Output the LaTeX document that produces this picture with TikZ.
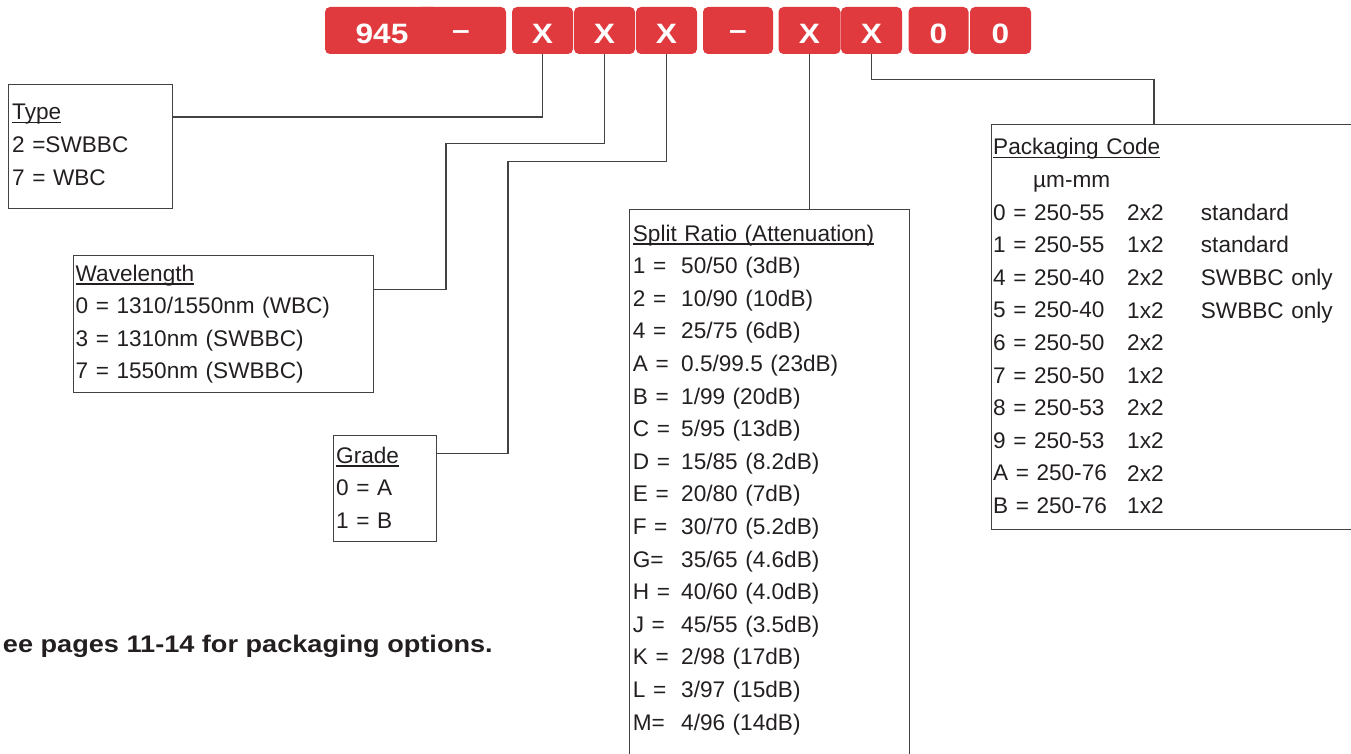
\documentclass[tikz,border=0pt]{standalone}
\usepackage{fontspec}
\setmainfont{Liberation Sans}
\newfontfamily\widebold[FakeStretch=1.13]{Liberation Sans}
\definecolor{codered}{RGB}{224,58,63}
\definecolor{ink}{RGB}{35,31,32}
\newcommand{\hdr}[1]{\leavevmode\setbox0\hbox{#1}\rlap{\rule[-3.5pt]{\wd0}{1.1pt}}\box0}

\begin{document}
\begin{tikzpicture}[x=1pt, y=-1pt,
  code/.style={rectangle, rounded corners=5pt, fill=codered, text=white, minimum height=47, inner sep=0, text height=26pt, text depth=0pt, font=\widebold\bfseries\fontsize{28}{30}\selectfont},
  box/.style={rectangle, draw=ink!85, line width=1.1pt, anchor=north west, inner sep=0},
  lines/.style={anchor=base west, inner sep=0, text width=330pt, align=left, text=ink, font=\fontsize{22.6}{32.6}\selectfont},
  wire/.style={draw=ink!85, line width=1.1pt}]
\useasboundingbox (0,0) rectangle (1351,754);
\clip (0,0) rectangle (1351,754);

\node[code, minimum width=114] (c945) at (382,30.5) {945};
\node[code, minimum width=90] (dash1) at (461,30.5) {\raisebox{4pt}{–}};
\node[code, minimum width=61] (x1) at (542.5,30.5) {X};
\node[code, minimum width=61] (x2) at (604.5,30.5) {X};
\node[code, minimum width=61] (x3) at (666.5,30.5) {X};
\node[code, minimum width=70] (dash2) at (738,30.5) {\raisebox{4pt}{–}};
\node[code, minimum width=62] (x4) at (809.5,30.5) {X};
\node[code, minimum width=61] (x5) at (871.5,30.5) {X};
\node[code, minimum width=60] (zero1) at (938.5,30.5) {0};
\node[code, minimum width=61] (zero2) at (1000.5,30.5) {0};

\node[box, minimum width=163.4, minimum height=124] (type) at (8.3,84) {};
\node[lines] (typetxt) at (12,120) {\hdr{Type}\\2 =SWBBC\\7 = WBC};

\node[box, minimum width=300.6, minimum height=136.7] (wave) at (72.7,255) {};
\node[lines] (wavetxt) at (75.5,281) {\hdr{Wavelength}\\0 = 1310/1550nm (WBC)\\3 = 1310nm (SWBBC)\\7 = 1550nm (SWBBC)};

\node[box, minimum width=103, minimum height=105.7] (grade) at (332.7,435) {};
\node[lines] (gradetxt) at (336,463) {\hdr{Grade}\\0 = A\\1 = B};

\node[box, minimum width=280, minimum height=600] (split) at (629.3,209.3) {};
\node[lines] (splitkey) at (632.7,241) {\hdr{Split Ratio (Attenuation)}\\1 =\\2 =\\4 =\\A =\\B =\\C =\\D =\\E =\\F =\\G=\\H =\\J =\\K =\\L =\\M=};
\node[lines, text width=200pt] (splitval) at (681,273.6) {50/50 (3dB)\\10/90 (10dB)\\25/75 (6dB)\\0.5/99.5 (23dB)\\1/99 (20dB)\\5/95 (13dB)\\15/85 (8.2dB)\\20/80 (7dB)\\30/70 (5.2dB)\\35/65 (4.6dB)\\40/60 (4.0dB)\\45/55 (3.5dB)\\2/98 (17dB)\\3/97 (15dB)\\4/96 (14dB)};

\node[box, minimum width=420, minimum height=404.5] (pack) at (990.8,124) {};
\node[lines] (packkey) at (993,155) {\hdr{Packaging Code}\\\hspace*{40pt}µm-mm\\0 = 250-55\\1 = 250-55\\4 = 250-40\\5 = 250-40\\6 = 250-50\\7 = 250-50\\8 = 250-53\\9 = 250-53\\A = 250-76\\B = 250-76};
\node[lines, text width=60pt] (packsize) at (1127,220.2) {2x2\\1x2\\2x2\\1x2\\2x2\\1x2\\2x2\\1x2\\2x2\\1x2};
\node[lines, text width=150pt] (packnote) at (1200.7,220.2) {standard\\standard\\SWBBC only\\SWBBC only};

\node[anchor=base east, inner sep=0, text=ink, font=\widebold\bfseries\fontsize{24}{28}\selectfont] (note) at (493,652.7) {ee pages 11-14 for packaging options.};

\coordinate (typetap) at (542.5,117);
\coordinate (wavebend1) at (446,143.3);
\coordinate (wavebend2) at (446,289.5);
\coordinate (gradebend1) at (508,161.7);
\coordinate (gradebend2) at (508,453.3);
\coordinate (packbend) at (1154,79.5);
\draw[wire] (x1.south) |- (type.east |- typetap);
\draw[wire] (x2.south) |- (wavebend1) -- (wavebend2) -- (wave.east |- wavebend2);
\draw[wire] (x3.south) |- (gradebend1) -- (gradebend2) -- (grade.east |- gradebend2);
\draw[wire] (x4.south) -- (x4.south |- split.north);
\draw[wire] (x5.south) |- (packbend) -- (packbend |- pack.north);
\end{tikzpicture}
\end{document}
